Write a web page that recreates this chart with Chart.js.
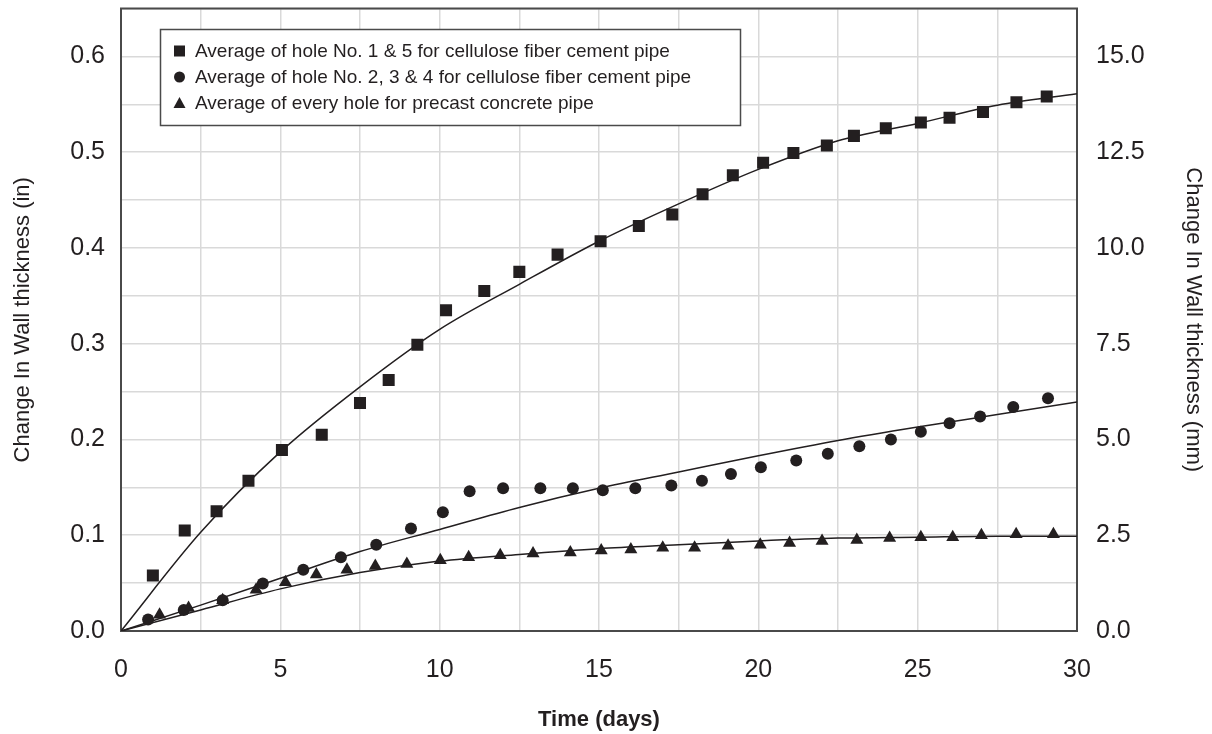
<!DOCTYPE html>
<html>
<head>
<meta charset="utf-8">
<title>Change in wall thickness</title>
<script src="https://cdn.jsdelivr.net/npm/chart.js@4.4.0/dist/chart.umd.min.js"></script>
<style>
  html, body { margin: 0; padding: 0; background: #fff; }
  #wrap { width: 1212px; height: 734px; }
</style>
</head>
<body>
<div id="wrap"><canvas id="wallChart" width="1212" height="734"></canvas></div>
<script>
// ---- data (days, inches) ----
var sqDays = [1.0, 2.0, 3.0, 4.0, 5.05, 6.3, 7.5, 8.4, 9.3, 10.2, 11.4, 12.5, 13.7, 15.05, 16.25, 17.3, 18.25, 19.2, 20.15, 21.1, 22.15, 23.0, 24.0, 25.1, 26.0, 27.05, 28.1, 29.05];
var sqIn   = [0.058, 0.105, 0.125, 0.157, 0.189, 0.205, 0.238, 0.262, 0.299, 0.335, 0.355, 0.375, 0.393, 0.407, 0.423, 0.435, 0.456, 0.476, 0.489, 0.499, 0.507, 0.517, 0.525, 0.531, 0.536, 0.542, 0.552, 0.558];

var cirDays = [0.85, 1.97, 3.19, 4.45, 5.72, 6.9, 8.01, 9.1, 10.1, 10.94, 11.99, 13.16, 14.18, 15.12, 16.14, 17.27, 18.23, 19.14, 20.08, 21.19, 22.18, 23.17, 24.16, 25.1, 26.0, 26.96, 28.0, 29.09];
var cirIn   = [0.012, 0.022, 0.032, 0.0495, 0.064, 0.077, 0.090, 0.107, 0.124, 0.146, 0.149, 0.149, 0.149, 0.147, 0.149, 0.152, 0.157, 0.164, 0.171, 0.178, 0.185, 0.193, 0.200, 0.208, 0.217, 0.224, 0.234, 0.243];

var triDays = [1.21, 2.12, 3.19, 4.24, 5.16, 6.13, 7.09, 7.98, 8.97, 10.02, 10.91, 11.9, 12.93, 14.1, 15.07, 16.0, 17.0, 18.0, 19.05, 20.06, 20.98, 22.0, 23.09, 24.12, 25.1, 26.1, 27.0, 28.09, 29.26];
var triIn   = [0.017, 0.024, 0.032, 0.043, 0.051, 0.059, 0.064, 0.068, 0.070, 0.074, 0.077, 0.079, 0.081, 0.082, 0.084, 0.085, 0.087, 0.087, 0.089, 0.090, 0.092, 0.094, 0.095, 0.097, 0.098, 0.098, 0.100, 0.101, 0.101];

// trend curves
var fitDays = [0, 2.5, 5, 7.5, 10, 12.5, 15, 17.5, 20, 22.5, 25, 27.5, 30];
var fitSq   = [0, 0.103, 0.187, 0.255, 0.315, 0.362, 0.407, 0.446, 0.482, 0.512, 0.530, 0.549, 0.561];
var fitCir  = [0, 0.027, 0.055, 0.083, 0.106, 0.129, 0.149, 0.166, 0.183, 0.199, 0.213, 0.226, 0.239];
var fitTri  = [0, 0.022, 0.044, 0.061, 0.073, 0.080, 0.086, 0.090, 0.094, 0.097, 0.098, 0.099, 0.099];

var legendLabels = [
  'Average of hole No. 1 & 5 for cellulose fiber cement pipe',
  'Average of hole No. 2, 3 & 4 for cellulose fiber cement pipe',
  'Average of every hole for precast concrete pipe'
];

var INK = '#231f20';
var GRID = '#d9d9d9';
var FONT = '"Liberation Sans", Arial, Helvetica, sans-serif';

function pairs(xs, ys) {
  return xs.map(function (x, i) { return { x: x, y: ys[i] }; });
}

function fitSet(ys) {
  return {
    type: 'line',
    data: pairs(fitDays, ys),
    borderColor: INK,
    borderWidth: 1.5,
    pointRadius: 0,
    fill: false,
    cubicInterpolationMode: 'monotone',
    order: 2
  };
}

// keep the plot area where the reference has it
function noPad(s) {
  s.paddingTop = 0;
  s.paddingBottom = 0;
}

// frame round the plot area
var frame = {
  id: 'frame',
  beforeDatasetsDraw: function (chart) {
    var a = chart.chartArea, c = chart.ctx;
    c.save();
    c.strokeStyle = '#4a4a4a';
    c.lineWidth = 2;
    c.strokeRect(a.left, a.top, a.right - a.left, a.bottom - a.top);
    c.restore();
  }
};

// boxed legend in the upper left corner
var boxLegend = {
  id: 'boxLegend',
  afterDraw: function (chart) {
    var c = chart.ctx;
    c.save();
    c.fillStyle = '#fff';
    c.fillRect(160, 29, 581, 97);
    c.strokeStyle = '#4a4a4a';
    c.lineWidth = 1.5;
    c.strokeRect(160.5, 29.5, 580, 96);
    var rows = [51, 77, 103];
    c.fillStyle = INK;
    // square
    c.fillRect(174, rows[0] - 5.5, 11, 11);
    // circle
    c.beginPath();
    c.arc(179.5, rows[1], 5.5, 0, Math.PI * 2);
    c.fill();
    // triangle
    c.beginPath();
    c.moveTo(179.5, rows[2] - 6);
    c.lineTo(185.5, rows[2] + 5);
    c.lineTo(173.5, rows[2] + 5);
    c.closePath();
    c.fill();
    c.font = '19px ' + FONT;
    c.textBaseline = 'middle';
    legendLabels.forEach(function (t, i) { c.fillText(t, 195, rows[i] + 1); });
    c.restore();
  }
};

var ctx = document.getElementById('wallChart').getContext('2d');
var wallChart = new Chart(ctx, {
  type: 'scatter',
  data: {
    datasets: [
      { label: legendLabels[0], data: pairs(sqDays, sqIn), pointStyle: 'rect', pointRadius: 8.5,
        backgroundColor: INK, borderColor: INK, borderWidth: 0, order: 1 },
      { label: legendLabels[1], data: pairs(cirDays, cirIn), pointStyle: 'circle', pointRadius: 6,
        backgroundColor: INK, borderColor: INK, borderWidth: 0, order: 1 },
      { label: legendLabels[2], data: pairs(triDays, triIn), pointStyle: 'triangle', pointRadius: 7.5,
        backgroundColor: INK, borderColor: INK, borderWidth: 0, order: 1 },
      fitSet(fitSq),
      fitSet(fitCir),
      fitSet(fitTri)
    ]
  },
  options: {
    responsive: false,
    animation: false,
    layout: { padding: { top: 6, left: 0, right: 0, bottom: 0 } },
    plugins: {
      legend: { display: false },
      tooltip: { enabled: false }
    },
    scales: {
      x: {
        type: 'linear',
        min: 0, max: 30,
        grid: { color: GRID, lineWidth: 1.5, drawTicks: false },
        border: { display: false },
        ticks: {
          stepSize: 2.5,
          padding: 24,
          color: INK,
          font: { family: FONT, size: 25 },
          callback: function (v) { return v % 5 === 0 ? String(v) : ''; }
        },
        title: {
          display: true,
          text: 'Time (days)',
          color: INK,
          font: { family: FONT, size: 22, weight: 'bold' },
          padding: { top: 0, bottom: 1 }
        },
        afterFit: function (s) { s.height = 103; }
      },
      y: {
        position: 'left',
        min: 0, max: 0.65,
        grid: { color: GRID, lineWidth: 1.5, drawTicks: false },
        border: { display: false },
        ticks: {
          stepSize: 0.05,
          padding: 16,
          color: INK,
          font: { family: FONT, size: 25 },
          callback: function (v) {
            var k = Math.round(v * 100);
            return (k % 10 === 0) ? (k / 100).toFixed(1) : '';
          }
        },
        title: {
          display: true,
          text: 'Change In Wall thickness (in)',
          color: INK,
          font: { family: FONT, size: 22 },
          padding: { top: 10, bottom: 0 }
        },
        afterFit: function (s) { s.width = 121; noPad(s); }
      },
      y2: {
        position: 'right',
        min: 0, max: 16.25,
        grid: { display: false, drawTicks: false },
        border: { display: false },
        ticks: {
          stepSize: 2.5,
          padding: 19,
          color: INK,
          font: { family: FONT, size: 25 },
          callback: function (v) {
            var k = Math.round(v * 10);
            return (k % 25 === 0) ? (k / 10).toFixed(1) : '';
          }
        },
        title: {
          display: true,
          text: 'Change In Wall thickness (mm)',
          color: INK,
          font: { family: FONT, size: 22 },
          padding: { top: 6, bottom: 0 }
        },
        afterFit: function (s) { s.width = 135; noPad(s); }
      }
    }
  },
  plugins: [frame, boxLegend]
});
</script>
</body>
</html>
